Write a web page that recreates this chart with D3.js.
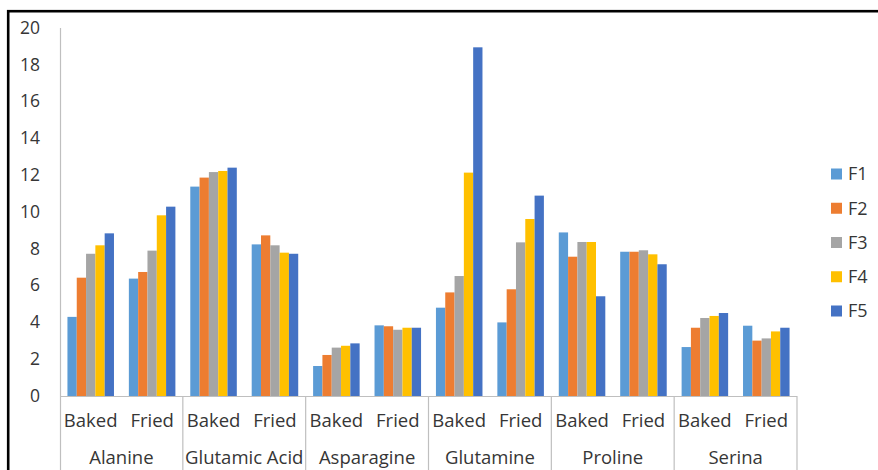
<!DOCTYPE html>
<html>
<head>
<meta charset="utf-8">
<script src="https://cdn.jsdelivr.net/npm/d3@7"></script>
<style>
  html, body { margin: 0; padding: 0; background: #fff; }
  svg { display: block; }
  text { font-family: "Open Sans", sans-serif; fill: #363636; }
</style>
</head>
<body>
<script>
// Amino acid content by formulation (F1–F5) for baked and fried samples
const aminoAcids = ["Alanine", "Glutamic Acid", "Asparagine", "Glutamine", "Proline", "Serina"];
const methods = ["Baked", "Fried"];
const seriesNames = ["F1", "F2", "F3", "F4", "F5"];
const seriesColors = ["#5B9BD5", "#ED7D31", "#A5A5A5", "#FFC000", "#4472C4"];
const yTicks = [0, 2, 4, 6, 8, 10, 12, 14, 16, 18, 20];

// values listed per amino acid / method, in order F1..F5
const F1 = [4.3, 6.38, 11.38, 8.24, 1.63, 3.84, 4.8, 4.0, 8.89, 7.84, 2.66, 3.82];
const F2 = [6.43, 6.74, 11.87, 8.73, 2.23, 3.79, 5.63, 5.8, 7.57, 7.84, 3.71, 3.01];
const F3 = [7.73, 7.9, 12.17, 8.19, 2.63, 3.6, 6.52, 8.35, 8.37, 7.92, 4.24, 3.13];
const F4 = [8.19, 9.82, 12.23, 7.79, 2.73, 3.71, 12.14, 9.62, 8.37, 7.7, 4.35, 3.51];
const F5 = [8.84, 10.29, 12.41, 7.73, 2.86, 3.71, 18.95, 10.89, 5.42, 7.16, 4.51, 3.71];
const seriesValues = [F1, F2, F3, F4, F5];

const W = 878, H = 470;
const svg = d3.select("body").append("svg").attr("width", W).attr("height", H);

// outer frame
svg.append("rect")
  .attr("x", 8.2).attr("y", 11.2)
  .attr("width", W + 20).attr("height", H + 20)
  .attr("fill", "none").attr("stroke", "#000").attr("stroke-width", 2.6);

const plotLeft = 60, plotRight = 797, plotTop = 28, plotBottom = 396;

const y = d3.scaleLinear().domain([0, 20]).range([plotBottom, plotTop]);
const x0 = d3.scaleBand().domain(aminoAcids).range([plotLeft, plotRight]).padding(0);
const x1 = d3.scaleBand().domain(methods).range([0, x0.bandwidth()]).padding(0);
const x2 = d3.scaleBand().domain(seriesNames).range([0, x1.bandwidth()])
  .paddingInner(0).paddingOuter(0.8);
const color = d3.scaleOrdinal().domain(seriesNames).range(seriesColors);

// value axis
const yAxis = d3.axisLeft(y).tickValues(yTicks).tickSize(0).tickPadding(20);
const yg = svg.append("g").attr("transform", `translate(${plotLeft},0)`).call(yAxis);
yg.select(".domain").remove();
yg.selectAll("text").style("font-size", "17.5px").attr("fill", "#363636").attr("dy", "0.3em");

// left axis line running down through the category labels
svg.append("line")
  .attr("x1", plotLeft + 0.5).attr("x2", plotLeft + 0.5)
  .attr("y1", plotTop).attr("y2", H)
  .attr("stroke", "#BFBFBF").attr("stroke-width", 1.2);

// bars
const rows = [];
aminoAcids.forEach((aa, i) => {
  methods.forEach((m, j) => {
    seriesNames.forEach((s, k) => {
      rows.push({ aa, m, s, v: seriesValues[k][i * methods.length + j] });
    });
  });
});

svg.append("g").selectAll("rect").data(rows).join("rect")
  .attr("x", d => x0(d.aa) + x1(d.m) + x2(d.s))
  .attr("y", d => y(d.v))
  .attr("width", x2.bandwidth())
  .attr("height", d => y(0) - y(d.v))
  .attr("fill", d => color(d.s));

// category axis line
svg.append("line")
  .attr("x1", plotLeft).attr("x2", plotRight)
  .attr("y1", plotBottom + 0.5).attr("y2", plotBottom + 0.5)
  .attr("stroke", "#BFBFBF").attr("stroke-width", 1.2);

// group separators
aminoAcids.forEach((aa, i) => {
  const xs = x0(aa) + x0.bandwidth();
  svg.append("line")
    .attr("x1", xs).attr("x2", xs)
    .attr("y1", plotBottom).attr("y2", H)
    .attr("stroke", "#BFBFBF").attr("stroke-width", 1.2);
});

// method labels
const lab = svg.append("g");
aminoAcids.forEach(aa => {
  methods.forEach(m => {
    lab.append("text")
      .attr("x", x0(aa) + x1(m) + x1.bandwidth() / 2)
      .attr("y", 427)
      .attr("text-anchor", "middle")
      .style("font-size", "18.5px")
      .text(m);
  });
  lab.append("text")
    .attr("x", x0(aa) + x0.bandwidth() / 2)
    .attr("y", 464)
    .attr("text-anchor", "middle")
    .style("font-size", "18.5px")
    .text(aa);
});

// legend
const legY = d3.scalePoint().domain(seriesNames).range([174, 311]);
const leg = svg.append("g");
seriesNames.forEach(s => {
  leg.append("rect")
    .attr("x", 831).attr("y", legY(s) - 5.5)
    .attr("width", 11).attr("height", 11)
    .attr("fill", color(s));
  leg.append("text")
    .attr("x", 848).attr("y", legY(s))
    .attr("dy", "0.35em")
    .style("font-size", "18px")
    .text(s);
});
</script>
</body>
</html>
